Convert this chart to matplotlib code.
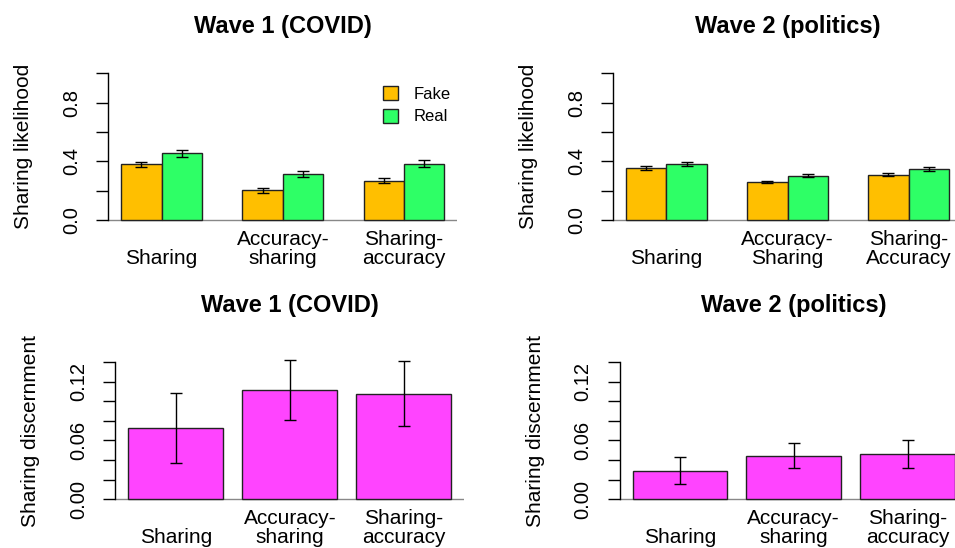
import numpy as np
import matplotlib.pyplot as plt
from matplotlib.patches import Patch

plt.rcParams['font.family'] = ['Liberation Sans', 'DejaVu Sans']

# Condition labels
labels_w1 = ["\nSharing", "Accuracy-\nsharing", "Sharing-\naccuracy"]
labels_w2_top = ["\nSharing", "Accuracy-\nSharing", "Sharing-\nAccuracy"]
labels_w2_bot = ["\nSharing", "Accuracy-\nsharing", "Sharing-\naccuracy"]

# Sharing likelihood (mean, error half-width)
w1_fake = [0.380, 0.202, 0.268]
w1_fake_err = [0.018, 0.016, 0.017]
w1_real = [0.455, 0.314, 0.384]
w1_real_err = [0.025, 0.023, 0.023]

w2_fake = [0.354, 0.259, 0.309]
w2_fake_err = [0.016, 0.010, 0.012]
w2_real = [0.382, 0.302, 0.348]
w2_real_err = [0.014, 0.012, 0.013]

# Sharing discernment
w1_disc = [0.073, 0.1117, 0.108]
w1_disc_err = [0.036, 0.031, 0.033]
w2_disc = [0.029, 0.0444, 0.046]
w2_disc_err = [0.014, 0.0128, 0.0143]

FAKE = "#FFBF00"
REAL = "#2EFF66"
MAG = "#FF44FF"
EDGE = "#222222"

fig = plt.figure(figsize=(9.55, 5.48), dpi=100)
W, H = 955.0, 548.0


def make_ax(x0, x1, ytop, ybot):
    return fig.add_axes([x0 / W, 1 - ybot / H, (x1 - x0) / W, (ybot - ytop) / H])


def style(ax, title, ylabel, xlabels, xpos, tpad):
    for s in ["top", "right", "bottom"]:
        ax.spines[s].set_visible(False)
    ax.spines["left"].set_linewidth(1.0)
    ax.axhline(0, color="#888888", lw=1.0, zorder=0)
    ax.set_xticks(xpos)
    ax.set_xticklabels(xlabels, fontsize=15, linespacing=1.0)
    ax.tick_params(axis="x", length=0, pad=3)
    ax.tick_params(axis="y", length=8.5, width=1.0, pad=11, labelsize=14.5)
    for t in ax.get_yticklabels():
        t.set_rotation(90)
        t.set_va("center")
    ax.set_title(title, fontsize=17, fontweight="bold", pad=tpad)
    ax.set_ylabel(ylabel, fontsize=15)
    ax.yaxis.set_label_coords(-0.215, 0.5)


def likelihood(ax, fake, fake_err, real, real_err, title, xlabels):
    x = np.arange(3) * 3 + 1
    ax.bar(x + 0.5, fake, width=1, color=FAKE, edgecolor=EDGE, lw=1.0)
    ax.bar(x + 1.5, real, width=1, color=REAL, edgecolor=EDGE, lw=1.0)
    ax.errorbar(x + 0.5, fake, yerr=fake_err, fmt="none", ecolor="black", elinewidth=1, capsize=4.5)
    ax.errorbar(x + 1.5, real, yerr=real_err, fmt="none", ecolor="black", elinewidth=1, capsize=4.5)
    ax.set_xlim(0.68, 9.32)
    ax.set_ylim(-0.04, 1.04)
    ax.spines["left"].set_bounds(0, 1)
    ax.set_yticks([0, 0.2, 0.4, 0.6, 0.8, 1.0])
    ax.set_yticklabels(["0.0", "", "0.4", "", "0.8", ""])
    style(ax, title, "Sharing likelihood", xlabels, x + 1, 25)


def discernment(ax, vals, errs, title, xlabels):
    x = np.array([0.7, 1.9, 3.1])
    ax.bar(x, vals, width=1, color=MAG, edgecolor=EDGE, lw=1.0)
    ax.errorbar(x, vals, yerr=errs, fmt="none", ecolor="black", elinewidth=1, capsize=4.2)
    ax.set_xlim(0.064, 3.736)
    ax.set_ylim(-0.0056, 0.1456)
    ax.spines["left"].set_bounds(0, 0.14)
    ax.set_yticks(np.arange(0, 0.141, 0.02))
    ax.set_yticklabels(["0.00", "", "", "0.06", "", "", "0.12", ""])
    style(ax, title, "Sharing discernment", xlabels, x, 32)


ax1 = make_ax(108.3, 457.3, 67.4, 225.9)
likelihood(ax1, w1_fake, w1_fake_err, w1_real, w1_real_err, "Wave 1 (COVID)", labels_w1)
ax1.legend(handles=[Patch(facecolor=FAKE, edgecolor=EDGE), Patch(facecolor=REAL, edgecolor=EDGE)],
           labels=["Fake", "Real"], frameon=False, fontsize=12, handlelength=0.9,
           handleheight=0.9, handletextpad=0.9, labelspacing=0.4,
           loc="upper left", bbox_to_anchor=(0.745, 0.975))

ax2 = make_ax(613.0, 962.0, 67.4, 225.9)
likelihood(ax2, w2_fake, w2_fake_err, w2_real, w2_real_err, "Wave 2 (politics)", labels_w2_top)

ax3 = make_ax(115.4, 464.3, 356.9, 504.5)
discernment(ax3, w1_disc, w1_disc_err, "Wave 1 (COVID)", labels_w1)

ax4 = make_ax(619.7, 967.8, 356.9, 504.5)
discernment(ax4, w2_disc, w2_disc_err, "Wave 2 (politics)", labels_w2_bot)

fig.savefig("out.png", dpi=100)
